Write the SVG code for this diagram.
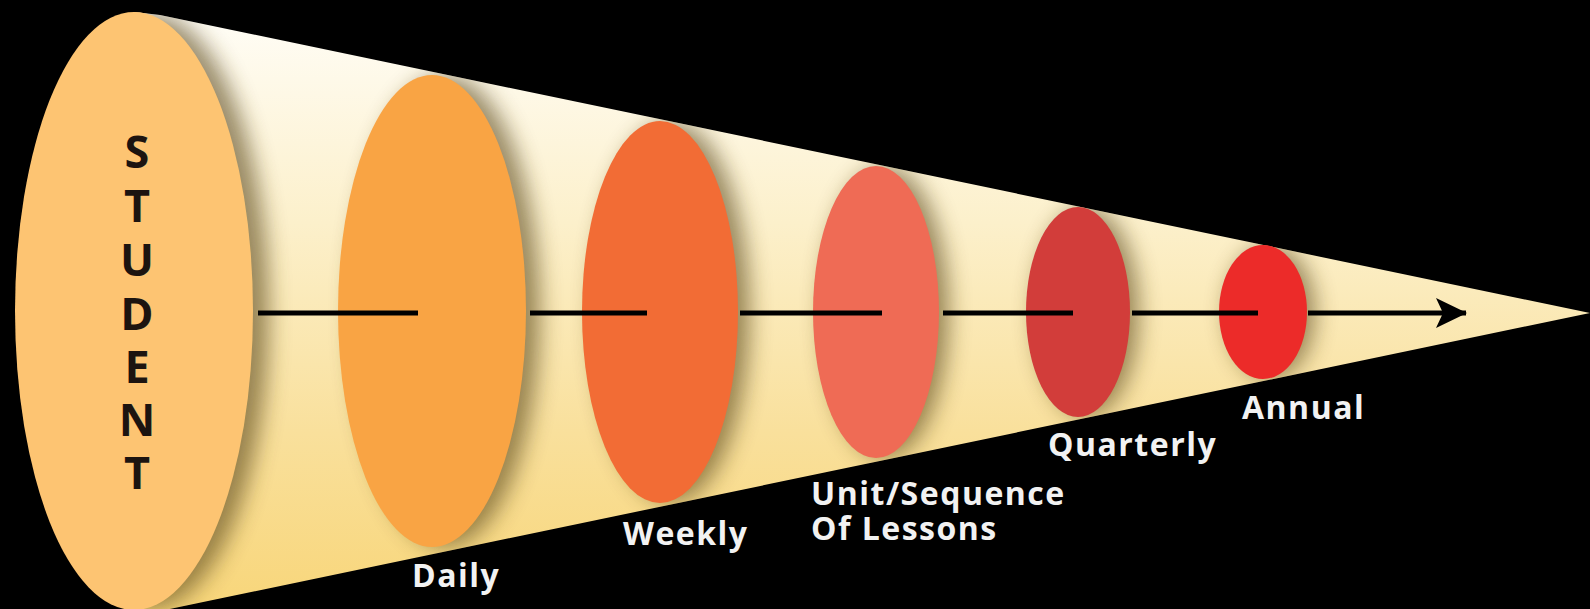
<svg xmlns="http://www.w3.org/2000/svg" width="1590" height="609" viewBox="0 0 1590 609">
<defs>
<style>
.lbl{font-family:"Open Sans","Liberation Sans",sans-serif;font-weight:700;font-size:32px;letter-spacing:1.5px;fill:#f2f2f2}
.stu{font-family:"Open Sans","Liberation Sans",sans-serif;font-weight:700;font-size:45px;fill:#1c1410;text-anchor:middle}
.conn{stroke:#000;stroke-width:5;fill:none}
.shadow{fill:#5b4a1e;opacity:0.62;filter:url(#blur)}
</style>
<linearGradient id="coneGrad" gradientUnits="userSpaceOnUse" x1="0" y1="15" x2="0" y2="609">
<stop offset="0" stop-color="#fffdf6"/>
<stop offset="0.35" stop-color="#fcf0cb"/>
<stop offset="0.7" stop-color="#f9e09c"/>
<stop offset="1" stop-color="#f8d67a"/>
</linearGradient>
<clipPath id="coneClip">
<polygon points="134,12 160,15 1590,313 160,611 134,611"/>
</clipPath>
<filter id="blur" x="-30%" y="-30%" width="160%" height="160%">
<feGaussianBlur stdDeviation="11"/>
</filter>
<marker id="arrow" markerUnits="userSpaceOnUse" markerWidth="34" markerHeight="34" refX="30" refY="17" orient="auto" viewBox="0 0 34 34">
<path d="M0,2 L31,17 L0,32 L7,17 Z" fill="#000"/>
</marker>
</defs>
<rect x="0" y="0" width="1590" height="609" fill="#000"/>
<g id="cone">
<polygon points="134,12 160,15 1590,313 160,611 134,611" fill="url(#coneGrad)"/>
<g clip-path="url(#coneClip)">
<ellipse class="shadow" cx="150" cy="311" rx="119" ry="298"/>
<ellipse class="shadow" cx="446" cy="311" rx="94" ry="236"/>
<ellipse class="shadow" cx="672" cy="312" rx="78" ry="191"/>
<ellipse class="shadow" cx="886" cy="312" rx="63" ry="146"/>
<ellipse class="shadow" cx="1087" cy="312" rx="52" ry="105"/>
<ellipse class="shadow" cx="1271" cy="312" rx="44" ry="67"/>
</g>
</g>
<g id="student">
<ellipse cx="134" cy="311" rx="119" ry="299" fill="#fdc472"/>
<text class="stu"><tspan x="137" y="168">S</tspan><tspan x="137" y="222">T</tspan><tspan x="137" y="276">U</tspan><tspan x="137" y="330">D</tspan><tspan x="137" y="383">E</tspan><tspan x="137" y="436">N</tspan><tspan x="137" y="489">T</tspan></text>
</g>
<g id="daily">
<ellipse cx="432" cy="311" rx="94" ry="236" fill="#f9a444"/>
</g>
<g id="weekly">
<ellipse cx="660" cy="312" rx="78" ry="191" fill="#f26c35"/>
</g>
<g id="unit">
<ellipse cx="876" cy="312" rx="63" ry="146" fill="#ef6b55"/>
</g>
<g id="quarterly">
<ellipse cx="1078" cy="312" rx="52" ry="105" fill="#d23d3a"/>
</g>
<g id="annual">
<ellipse cx="1263" cy="312" rx="44" ry="67" fill="#ec2b29"/>
</g>
<g id="connectors">
<line class="conn" x1="258" y1="313" x2="418" y2="313"/>
<line class="conn" x1="530" y1="313" x2="647" y2="313"/>
<line class="conn" x1="740" y1="313" x2="882" y2="313"/>
<line class="conn" x1="943" y1="313" x2="1073" y2="313"/>
<line class="conn" x1="1132" y1="313" x2="1258" y2="313"/>
<line class="conn" x1="1308" y1="313" x2="1466" y2="313" marker-end="url(#arrow)"/>
</g>
<g id="labels">
<text class="lbl" x="412" y="587">Daily</text>
<text class="lbl" x="623" y="545">Weekly</text>
<text class="lbl"><tspan x="811" y="505">Unit/Sequence</tspan><tspan x="811" y="540">Of Lessons</tspan></text>
<text class="lbl" x="1048" y="456">Quarterly</text>
<text class="lbl" x="1242" y="419">Annual</text>
</g>
</svg>
